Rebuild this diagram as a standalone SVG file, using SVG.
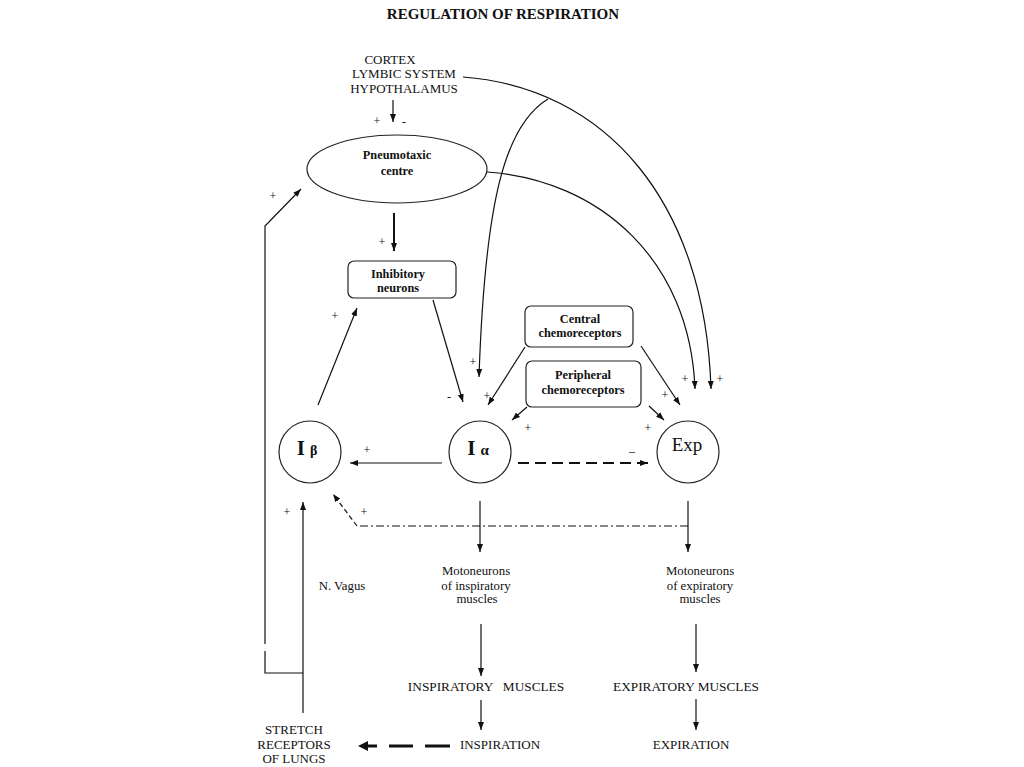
<svg xmlns="http://www.w3.org/2000/svg" width="1024" height="767" viewBox="0 0 1024 767">
<defs>
<marker id="ah" markerUnits="userSpaceOnUse" markerWidth="9" markerHeight="7" refX="8" refY="3.5" orient="auto"><path d="M0,0.5 L8,3.5 L0,6.5 z" fill="#111"/></marker>
</defs>
<style>
text{font-family:"Liberation Serif","Times New Roman",serif;fill:#111;text-anchor:middle}
.t{font-size:13px}
.c{font-size:13.3px}
.b{font-size:12.3px;font-weight:bold}
.s{font-size:12.8px}
.p{font-size:12px}
.ln{fill:none;stroke:#111;stroke-width:1.2}
.sh{fill:#fff;stroke:#222;stroke-width:1.2}
</style>
<rect width="1024" height="767" fill="#fff"/>
<text x="503" y="19" style="font-size:15px;font-weight:bold">REGULATION OF RESPIRATION</text>

<g id="higher-centres">
<text class="t" x="390" y="64">CORTEX</text>
<text class="t" x="404" y="78">LYMBIC SYSTEM</text>
<text class="t" x="404" y="93">HYPOTHALAMUS</text>
</g>
<g id="pneumotaxic">
<ellipse class="sh" cx="397" cy="169" rx="90" ry="34"/>
<text class="b" x="397" y="159">Pneumotaxic</text>
<text class="b" x="397" y="175">centre</text>
</g>
<g id="inhibitory">
<rect class="sh" x="348" y="261" width="108" height="37" rx="6"/>
<text class="b" x="398" y="278">Inhibitory</text>
<text class="b" x="398" y="292">neurons</text>
</g>
<g id="central">
<rect class="sh" x="525" y="306" width="108" height="41" rx="6"/>
<text class="b" x="580" y="323">Central</text>
<text class="b" x="580" y="337">chemoreceptors</text>
</g>
<g id="peripheral">
<rect class="sh" x="526" y="361" width="115" height="46" rx="6"/>
<text class="b" x="583" y="379">Peripheral</text>
<text class="b" x="583" y="394">chemoreceptors</text>
</g>
<g id="ibeta">
<circle class="sh" cx="310" cy="452" r="31"/>
<text x="307" y="455"><tspan style="font-size:21px;font-weight:bold">I</tspan><tspan dx="5" style="font-size:14px;font-weight:bold">β</tspan></text>
</g>
<g id="ialpha">
<circle class="sh" cx="480" cy="452" r="31"/>
<text x="478" y="455"><tspan style="font-size:21px;font-weight:bold">I</tspan><tspan dx="5" style="font-size:15px;font-weight:bold">α</tspan></text>
</g>
<g id="exp">
<circle class="sh" cx="688" cy="452" r="31"/>
<text x="687" y="451" style="font-size:19px">Exp</text>
</g>
<g id="moto-insp">
<text class="s" x="476" y="575">Motoneurons</text>
<text class="s" x="476" y="590">of inspiratory</text>
<text class="s" x="477" y="603">muscles</text>
</g>
<g id="moto-exp">
<text class="s" x="700" y="575">Motoneurons</text>
<text class="s" x="700" y="590">of expiratory</text>
<text class="s" x="700" y="603">muscles</text>
</g>
<g id="vagus"><text class="s" x="342" y="590">N. Vagus</text></g>
<g id="insp-muscles"><text class="c" x="486" y="691" xml:space="preserve">INSPIRATORY   MUSCLES</text></g>
<g id="exp-muscles"><text class="c" x="686" y="691">EXPIRATORY MUSCLES</text></g>
<g id="inspiration"><text class="t" x="500" y="749">INSPIRATION</text></g>
<g id="expiration"><text class="t" x="691" y="749">EXPIRATION</text></g>
<g id="stretch">
<text class="t" x="294" y="734">STRETCH</text>
<text class="t" x="294" y="749">RECEPTORS</text>
<text class="t" x="294" y="763">OF LUNGS</text>
</g>

<g id="connectors">
<path class="ln" d="M393,100 V122" marker-end="url(#ah)"/>
<path class="ln" d="M463,77 C605,88 705,200 711,389" marker-end="url(#ah)"/>
<path class="ln" d="M548,99 C505,125 485,200 479,377" marker-end="url(#ah)"/>
<path class="ln" d="M487,172 C600,180 690,260 695,389" marker-end="url(#ah)"/>
<path class="ln" d="M394,213 V251" style="stroke-width:2" marker-end="url(#ah)"/>
<path class="ln" d="M433,300 L463,402" marker-end="url(#ah)"/>
<path class="ln" d="M318,405 L357,308" marker-end="url(#ah)"/>
<path class="ln" d="M525,347 L488,405" marker-end="url(#ah)"/>
<path class="ln" d="M641,346 L680,405" marker-end="url(#ah)"/>
<path class="ln" d="M527,407 L512,420" marker-end="url(#ah)"/>
<path class="ln" d="M649,406 L664,420" marker-end="url(#ah)"/>
<path class="ln" d="M442,463 H350" marker-end="url(#ah)"/>
<path class="ln" d="M518,463 H648" style="stroke-width:2;stroke-dasharray:11 6" marker-end="url(#ah)"/>
<path class="ln" d="M688,526 H357" style="stroke-dasharray:8 3 2 3"/>
<path class="ln" d="M357,526 L333,494" style="stroke-dasharray:5 3" marker-end="url(#ah)"/>
<path class="ln" d="M480,501 V552" marker-end="url(#ah)"/>
<path class="ln" d="M688,501 V552" marker-end="url(#ah)"/>
<path class="ln" d="M481,624 V676" marker-end="url(#ah)"/>
<path class="ln" d="M481,700 V730" marker-end="url(#ah)"/>
<path class="ln" d="M696,624 V672" marker-end="url(#ah)"/>
<path class="ln" d="M696,699 V730" marker-end="url(#ah)"/>
<path class="ln" d="M303,713 V502" marker-end="url(#ah)"/>
<path class="ln" d="M303,673 H265 V651 M265,644 V226 L301,189" marker-end="url(#ah)"/>
<path class="ln" d="M450,746 H425 M413,746 H389" style="stroke-width:3"/>
<path class="ln" d="M377,746 H366" style="stroke-width:3"/>
<path d="M358,746 L368,741 L368,751 z" fill="#111"/>
</g>

<g id="signs">
<text class="p" x="377" y="125">+</text>
<text class="p" x="404" y="126">-</text>
<text class="p" x="382" y="246">+</text>
<text class="p" x="273" y="200">+</text>
<text class="p" x="335" y="320">+</text>
<text class="p" x="473" y="366">+</text>
<text class="p" x="449" y="401">-</text>
<text class="p" x="487" y="400">+</text>
<text class="p" x="528" y="432">+</text>
<text class="p" x="648" y="432">+</text>
<text class="p" x="665" y="399">+</text>
<text class="p" x="685" y="383">+</text>
<text class="p" x="720" y="383">+</text>
<text class="p" x="367" y="454">+</text>
<text class="p" x="632" y="455">–</text>
<text class="p" x="287" y="516">+</text>
<text class="p" x="364" y="516">+</text>
</g>
</svg>
